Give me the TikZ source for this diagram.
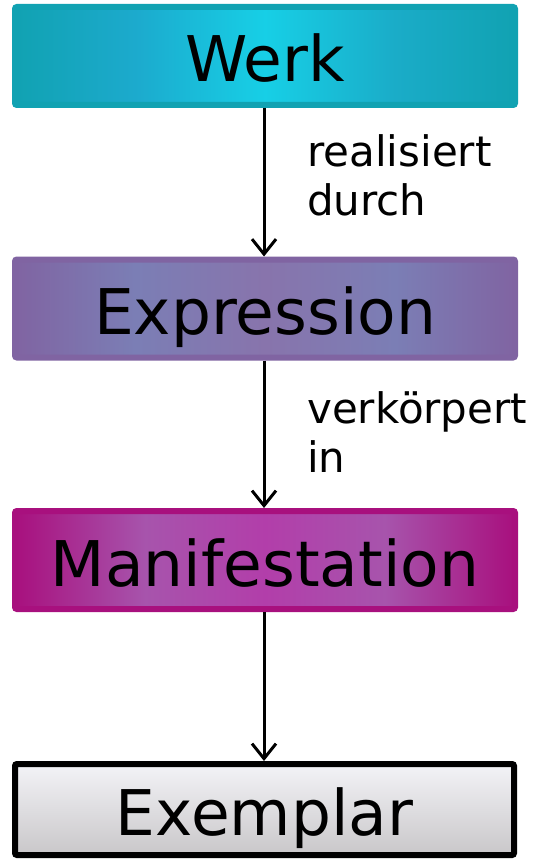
\documentclass[tikz,border=0pt]{standalone}
\usepackage{fontspec}
\setmainfont{DejaVu Sans}
\usetikzlibrary{arrows.meta}
\definecolor{werkE}{HTML}{11A2B2}
\definecolor{werkQ}{HTML}{1CAACD}
\definecolor{werkR}{HTML}{1AACC8}
\definecolor{werkM}{HTML}{17CFE6}
\definecolor{exprE}{HTML}{8064A2}
\definecolor{exprQ}{HTML}{7B7EB5}
\definecolor{exprM}{HTML}{8874AC}
\definecolor{manE}{HTML}{A8107E}
\definecolor{manQ}{HTML}{A754AC}
\definecolor{manM}{HTML}{B23EAA}
\definecolor{exT}{HTML}{F3F3F7}
\definecolor{exB}{HTML}{C9C7C9}
\pgfdeclarehorizontalshading{werkshade}{100bp}{color(0bp)=(werkE); color(25bp)=(werkE); color(37bp)=(werkQ); color(50bp)=(werkM); color(63bp)=(werkR); color(75bp)=(werkE); color(100bp)=(werkE)}
\pgfdeclarehorizontalshading{exprshade}{100bp}{color(0bp)=(exprE); color(25bp)=(exprE); color(37bp)=(exprQ); color(50bp)=(exprM); color(63bp)=(exprQ); color(75bp)=(exprE); color(100bp)=(exprE)}
\pgfdeclarehorizontalshading{manshade}{100bp}{color(0bp)=(manE); color(25bp)=(manE); color(38bp)=(manQ); color(50bp)=(manM); color(62bp)=(manQ); color(75bp)=(manE); color(100bp)=(manE)}
\tikzset{
  entity/.style={minimum width=500pt, minimum height=98pt, rounded corners=2pt,
    line width=6pt, inner sep=0pt, text height=52pt, text depth=0pt,
    font=\fontsize{63}{70}\selectfont, text=black},
  rel/.style={line width=3pt, -{Straight Barb[length=15pt,width=24pt]}},
  rellabel/.style={anchor=north west, inner sep=0pt, align=left,
    font=\fontsize{42}{49}\selectfont}
}
\begin{document}
\begin{tikzpicture}[x=1pt,y=-1pt]
\useasboundingbox (0,0) rectangle (536,861);
\node[entity, draw=werkE, shading=werkshade] (werk) at (265,56) {Werk};
\node[entity, draw=exprE, shading=exprshade] (expr) at (265,308.5) {Expression};
\node[entity, draw=manE, shading=manshade] (man) at (265,560) {Manifestation};
\node[entity, minimum width=499pt, minimum height=91pt, rounded corners=2pt, draw=black, line width=6pt,
  top color=exT, bottom color=exB] (ex) at (264.5,809.5) {Exemplar};
\draw[rel] (werk.south -| 264,0) -- (expr.north -| 264,0);
\draw[rel] (expr.south -| 264,0) -- (man.north -| 264,0);
\draw[rel] (man.south -| 264,0) -- (ex.north -| 264,0);
\node[rellabel] (l1) at (307,134) {realisiert\\durch};
\node[rellabel] (l2) at (307,391) {verkörpert\\in};
\end{tikzpicture}
\end{document}
